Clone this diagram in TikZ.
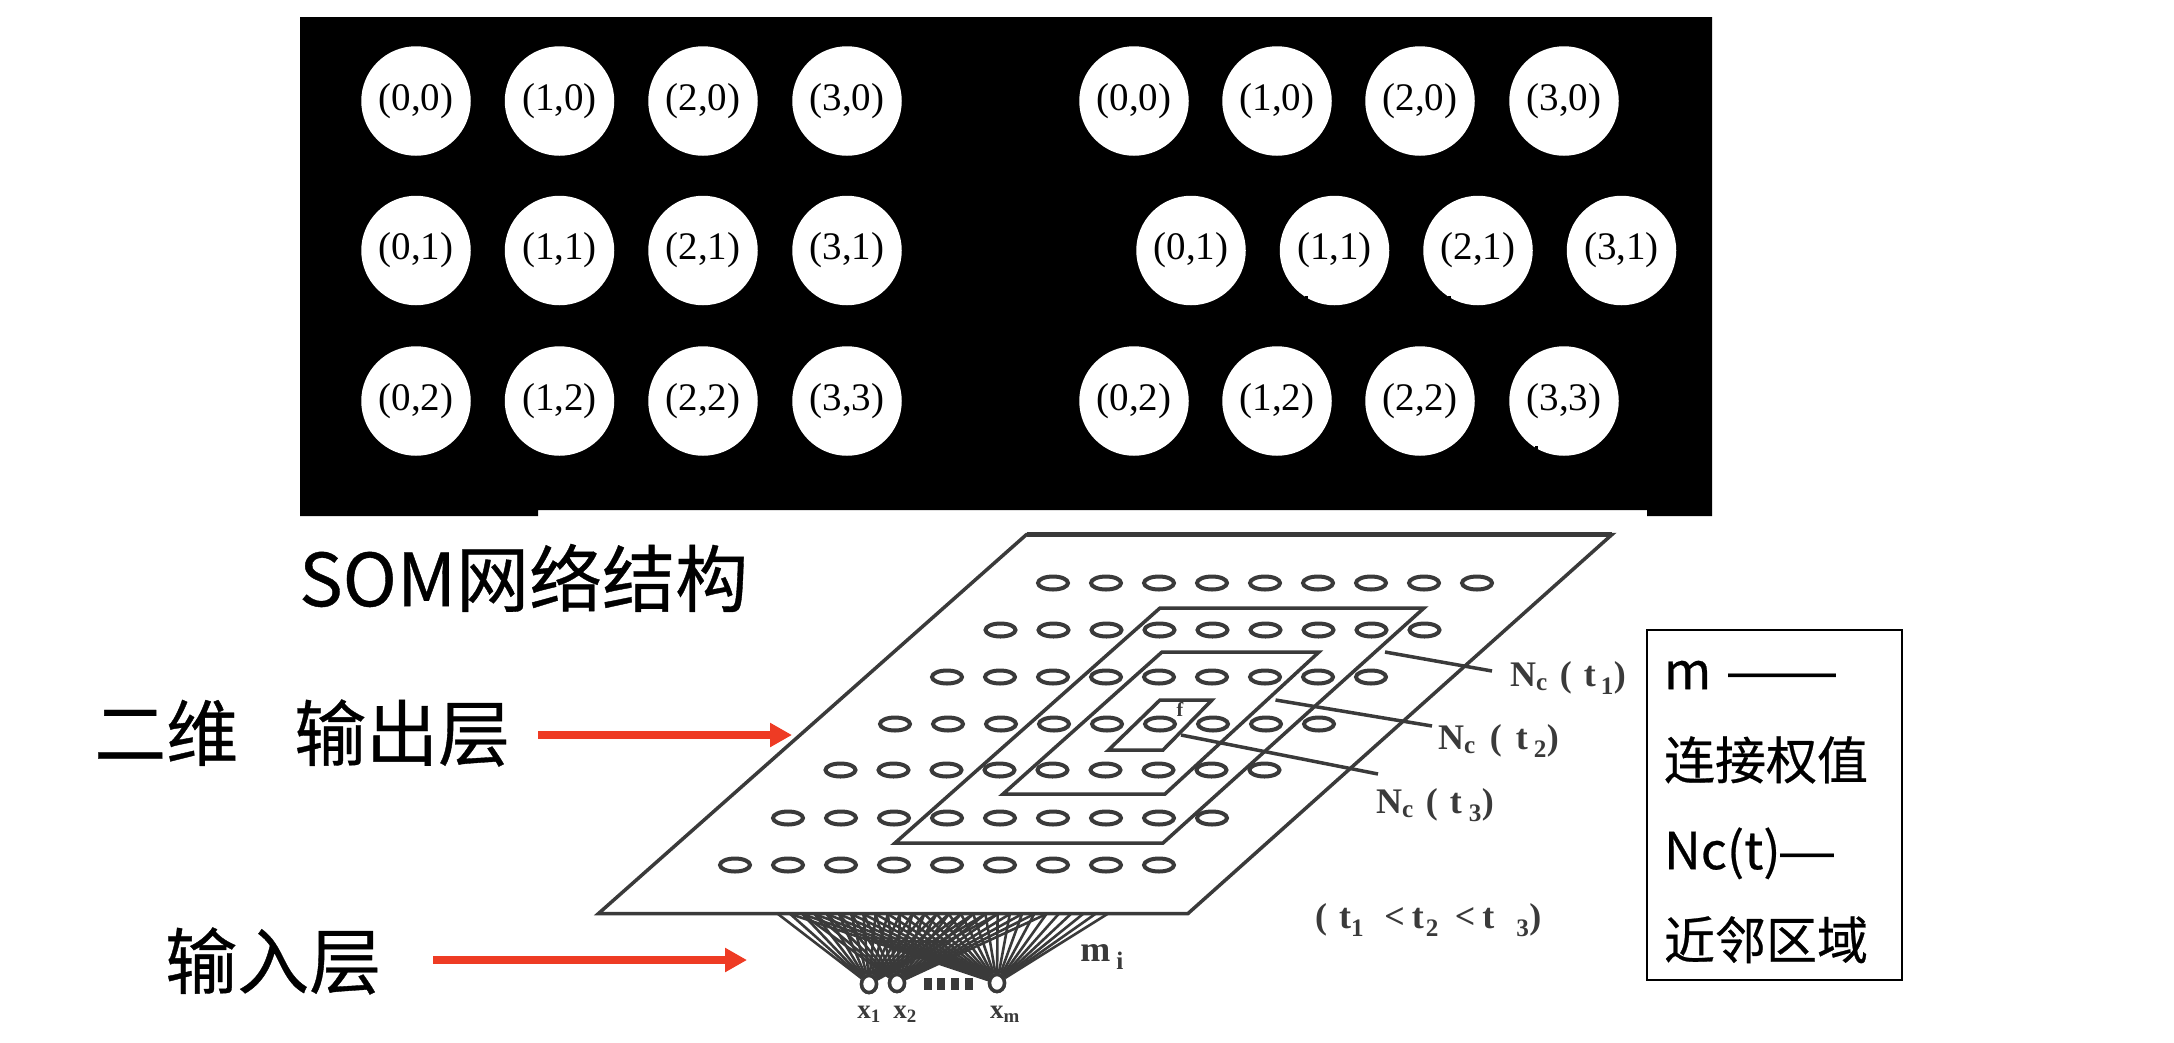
\documentclass[tikz,border=0pt]{standalone}
\usepackage{fontspec}
\usepackage{xcolor}
\setmainfont{Noto Sans CJK SC}
\newfontfamily\heavycjk[FakeBold=0.5]{Noto Sans CJK SC}
\newfontfamily\somserif{Liberation Serif}
\newfontfamily\dashfont{Liberation Sans}
\usetikzlibrary{arrows.meta,shapes.geometric}
\definecolor{myred}{HTML}{EE3B24}
\definecolor{mygray}{HTML}{3A3A3A}
\tikzstyle{cellnode} = [circle,fill=white,text=black,inner sep=0pt,minimum size=109.5pt,font=\somserif\fontsize{39}{40}\selectfont]
\tikzstyle{bigtext} = [inner sep=0pt,text=black,font=\heavycjk\fontsize{72}{74}\selectfont]
\tikzstyle{redarrow} = [line width=7.5pt,color=myred,-{Triangle[length=22pt,width=23pt]}]
\tikzstyle{scanline} = [color=mygray,line width=3.5pt,line join=miter]
\tikzstyle{fanline} = [color=mygray,line width=2.6pt]
\tikzstyle{scantext} = [text=mygray,font=\somserif\bfseries\fontsize{36}{38}\selectfont]
\tikzstyle{unitoval} = [color=mygray,line width=4pt]
\tikzstyle{innode} = [ellipse,draw=mygray,fill=white,line width=3.5pt,inner sep=0pt,minimum width=15pt,minimum height=17pt]
\tikzstyle{legendbox} = [draw=black,line width=1.5pt,inner sep=0pt,minimum width=255pt,minimum height=350pt]
\tikzstyle{legendtext} = [inner sep=0pt,text width=221pt,align=left,font=\heavycjk\fontsize{51}{90}\selectfont]
\begin{document}
\begin{tikzpicture}[x=1pt,y=-1pt]
            \useasboundingbox (0,0) rectangle (2174,1042);
            % black panel
            \fill [black] (300,17) -- (1712,17) -- (1712,516) -- (1647,516) -- (1647,510) -- (538,510) -- (538,516) -- (300,516) -- cycle;
            \foreach \cc/\rr/\xx/\yy in {0/0/416/101,1/0/559.5/101,2/0/703/101,3/0/847/101,
                0/1/416/250.5,1/1/559.5/250.5,2/1/703/250.5,3/1/847/250.5,
                0/2/416/401,1/2/559.5/401,2/2/703/401,3/3/847/401}
                \node[cellnode] (left\cc\rr) at (\xx,\yy) {\raisebox{3pt}{(\cc,\rr)}};
            \foreach \cc/\rr/\xx/\yy in {0/0/1134/101,1/0/1277/101,2/0/1420/101,3/0/1564/101,
                0/1/1191/250.5,1/1/1334.5/250.5,2/1/1478/250.5,3/1/1621.5/250.5,
                0/2/1134/401,1/2/1277/401,2/2/1420/401,3/3/1564/401}
                \node[cellnode] (right\cc\rr) at (\xx,\yy) {\raisebox{3pt}{(\cc,\rr)}};
            % small nicks in the white discs
            \foreach \xx/\yy in {1305/296,1448/296,1652/296,1535/446}
                \fill [black] (\xx,\yy) rectangle ++(3,2.5);
            % title and side labels
            \node[bigtext,anchor=west,font=\heavycjk\fontsize{73}{74}\selectfont] (title) at (299,578) {SOM网络结构};
            \node[bigtext,anchor=west] (outlabel) at (94,733) {二维\hspace{56pt}输出层};
            \node[bigtext,anchor=west] (inlabel) at (165,961) {输入层};
            \coordinate (outtip) at (792,735);
            \coordinate (intip) at (747,960);
            \draw [redarrow,shorten <=28pt] (outlabel.east |- outtip) -- (outtip);
            \draw [redarrow,shorten <=52pt] (inlabel.east |- intip) -- (intip);
            % input fan
            \foreach \i in {0,...,27}
                \coordinate (top\i) at ({778+12.2*\i},914);
            \node[innode] (inA) at (869,984) {};
            \node[innode] (inB) at (897,983) {};
            \node[innode] (inC) at (997,983) {};
            \foreach \i in {0,...,18}
                \draw [fanline] (inA) -- (top\i);
            \foreach \i in {2,...,22}
                \draw [fanline] (inB) -- (top\i);
            \foreach \i in {1,...,27}
                \draw [fanline] (inC) -- (top\i);
            \node[innode] at (inA) {};
            \node[innode] at (inB) {};
            \node[innode] at (inC) {};
            \foreach \xx in {928,941,955,969}
                \fill [mygray] (\xx-4,978) rectangle (\xx+4,990);
            \node[scantext,font=\somserif\bfseries\fontsize{27}{28}\selectfont] (xone) at (869,1014) {x\textsubscript{1}};
            \node[scantext,font=\somserif\bfseries\fontsize{27}{28}\selectfont] (xtwo) at (905,1014) {x\textsubscript{2}};
            \node[scantext,font=\somserif\bfseries\fontsize{27}{28}\selectfont] (xm) at (1005,1014) {x\textsubscript{m}};
            \node[scantext] (mi) at (1102,957) {m\,\textsubscript{i}};
            % plate
            \draw [scanline,fill=white] (1026.5,534.5) -- (1612,534.5) -- (1188,913.5) -- (598.5,913.5) -- cycle;
            \draw [scanline,line width=4.5pt] (1026.5,534.5) -- (1612,534.5);
            % output units
            \foreach \xs/\yy in {1053/583,1000.5/630,947/677,895/724,840.5/770,788/818,735/865}
                \foreach \i in {0,...,8}
                    \draw [unitoval] ({\xs+53*\i},\yy) ellipse (15 and 6.5);
            % neighbourhoods
            \draw [scanline] (1160,608) -- (1424,608) -- (1163,843) -- (895,843) -- cycle;
            \draw [scanline] (1162,652) -- (1319,652) -- (1165,794) -- (1003,794) -- cycle;
            \draw [scanline] (1160,700) -- (1212,700) -- (1163,750) -- (1108.5,750) -- cycle;
            \node[scantext,font=\somserif\bfseries\fontsize{20}{22}\selectfont] (centre) at (1180,709) {f};
            % neighbourhood labels
            \node[scantext,inner sep=0pt,anchor=west] (nta) at (1510,678) {N\textsubscript{c}\hspace{12pt}(\hspace{12pt}t\hspace{5pt}\textsubscript{1})};
            \node[scantext,inner sep=0pt,anchor=west] (ntb) at (1438,741) {N\textsubscript{c}\hspace{14pt}(\hspace{14pt}t\hspace{6pt}\textsubscript{2})};
            \node[scantext,inner sep=0pt,anchor=west] (ntc) at (1376,805) {N\textsubscript{c}\hspace{12pt}(\hspace{12pt}t\hspace{7pt}\textsubscript{3})};
            \node[scantext,inner sep=0pt,anchor=west] (order) at (1315,920) {(\hspace{12pt}t\textsubscript{1}\hspace{20pt}<\hspace{7pt}t\hspace{2pt}\textsubscript{2}\hspace{16pt}<\hspace{7pt}t\hspace{22pt}\textsubscript{3})};
            \coordinate (nstarta) at (1385,652);
            \coordinate (nstartb) at (1275.5,700);
            \coordinate (nstartc) at (1181,735);
            \coordinate (nenda) at (1492,671);
            \coordinate (nendb) at (1432,726);
            \coordinate (nendc) at (1378,774);
            \draw [scanline] (nstarta) -- (nenda);
            \draw [scanline] (nstartb) -- (nendb);
            \draw [scanline] (nstartc) -- (nendc);
            % legend
            \node[legendbox] (legend) at (1774.5,805) {};
            \node[legendtext] (legendlines) at (1774.5,812) {m {\dashfont\fontsize{54}{90}\selectfont ——}\\连接权值\\Nc(t){\dashfont\fontsize{54}{90}\selectfont —}\\近邻区域};
        \end{tikzpicture}
\end{document}
